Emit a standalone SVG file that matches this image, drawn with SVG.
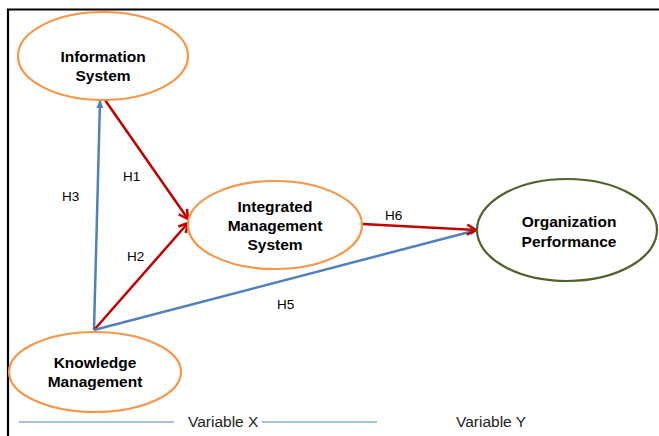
<svg xmlns="http://www.w3.org/2000/svg" width="659" height="436" viewBox="0 0 659 436">
<style>
.node{fill:#fff;stroke-width:2.2}
.or{stroke:#f79646}
.gr{stroke:#4f6228}
.lbl{font-family:"Liberation Sans",Arial,sans-serif;font-weight:bold;font-size:15.5px;fill:#000;text-anchor:middle}
.h{font-family:"Liberation Sans",Arial,sans-serif;font-size:13.5px;fill:#000}
.blue{stroke:#4f81bd;stroke-width:2.5;fill:none}
.red{stroke:#c00000;stroke-width:2.5;fill:none}
.leg{font-family:"Liberation Sans",Arial,sans-serif;font-size:15.5px;fill:#222}
</style>
<defs>
<marker id="ab" markerWidth="8" markerHeight="8" refX="7" refY="4" orient="auto" markerUnits="userSpaceOnUse">
<path d="M0,0.5 L8,4 L0,7.5 Z" fill="#4f81bd"/>
</marker>
<marker id="ar" markerWidth="12" markerHeight="12" refX="10" refY="6" orient="auto" markerUnits="userSpaceOnUse">
<path d="M1,1 L10,6 L1,11" fill="none" stroke="#c00000" stroke-width="2.5"/>
</marker>
</defs>
<rect width="659" height="436" fill="#fff"/>
<g id="frame">
<path d="M8,436 L8,9.5 L659,9.5" fill="none" stroke="#000" stroke-width="2.2"/>
</g>
<g id="connectors">
<line class="blue" x1="94" y1="330" x2="100" y2="101" marker-end="url(#ab)"/>
<line class="red" x1="105" y1="100" x2="188" y2="219" marker-end="url(#ar)"/>
<line class="red" x1="94" y1="330" x2="188" y2="223" marker-end="url(#ar)"/>
<line class="blue" x1="94" y1="330" x2="477" y2="230" marker-end="url(#ab)"/>
<line class="red" x1="362" y1="224" x2="476" y2="230" marker-end="url(#ar)"/>
<text class="h" x="123" y="181">H1</text>
<text class="h" x="62" y="201">H3</text>
<text class="h" x="127" y="261">H2</text>
<text class="h" x="385" y="220">H6</text>
<text class="h" x="277" y="309">H5</text>
</g>
<g id="information-system">
<ellipse class="node or" cx="103" cy="56" rx="85" ry="44"/>
<text class="lbl" x="103" y="62">Information</text>
<text class="lbl" x="103" y="81">System</text>
</g>
<g id="integrated-management-system">
<ellipse class="node or" cx="275" cy="225" rx="87" ry="44"/>
<text class="lbl" x="275" y="212">Integrated</text>
<text class="lbl" x="275" y="231">Management</text>
<text class="lbl" x="275" y="250">System</text>
</g>
<g id="organization-performance">
<ellipse class="node gr" cx="567" cy="230" rx="90" ry="51"/>
<text class="lbl" x="569" y="227">Organization</text>
<text class="lbl" x="569" y="247">Performance</text>
</g>
<g id="knowledge-management">
<ellipse class="node or" cx="95" cy="372" rx="86" ry="40"/>
<text class="lbl" x="95" y="368">Knowledge</text>
<text class="lbl" x="95" y="387">Management</text>
</g>
<g id="legend">
<line x1="19" y1="422" x2="174" y2="422" stroke="#4f81bd" stroke-width="1.2"/>
<text class="leg" x="188" y="427">Variable X</text>
<line x1="262" y1="422" x2="377" y2="422" stroke="#4f81bd" stroke-width="1.2"/>
<text class="leg" x="456" y="427">Variable Y</text>
</g>
</svg>
